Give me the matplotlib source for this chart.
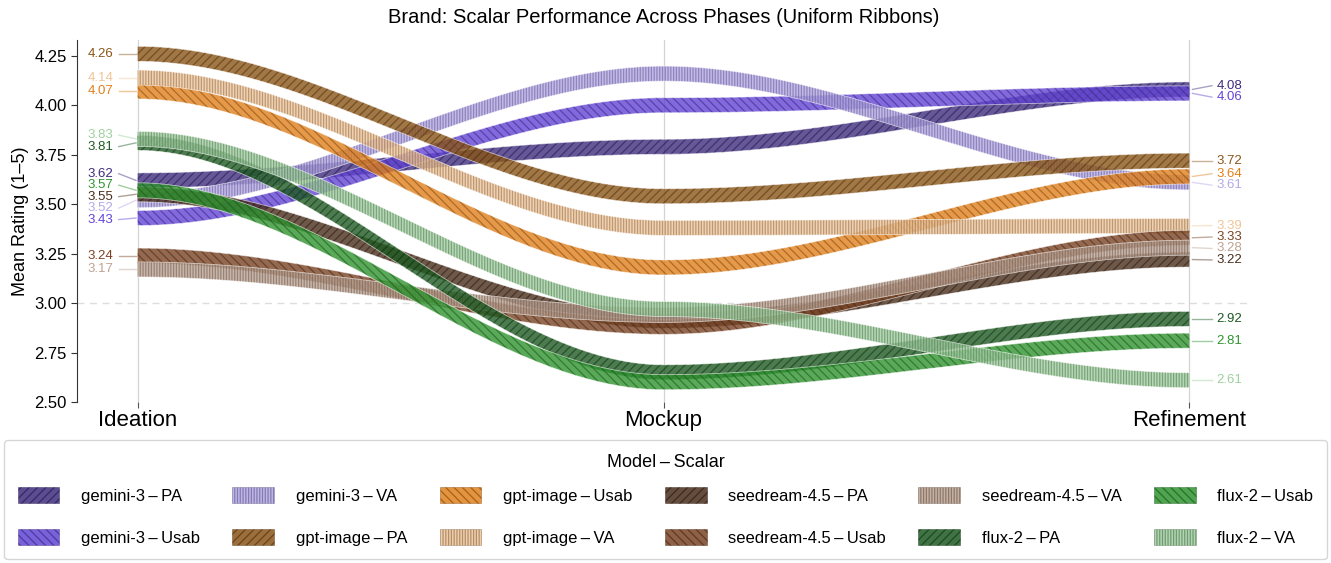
import numpy as np
import matplotlib
matplotlib.use("Agg")
import matplotlib.pyplot as plt
from matplotlib.patches import Patch
from matplotlib.colors import to_rgba

plt.rcParams['font.family'] = ['Liberation Sans', 'DejaVu Sans']
plt.rcParams['hatch.linewidth'] = 0.9

phases = ["Ideation", "Mockup", "Refinement"]
models = ["gemini-3", "gpt-image", "seedream-4.5", "flux-2"]
scalars = ["PA", "Usab", "VA"]

# mean rating per phase (Ideation, Mockup, Refinement)
gemini_pa = [3.62, 3.79, 4.08]
gemini_usab = [3.43, 4.00, 4.06]
gemini_va = [3.52, 4.16, 3.61]
gpt_pa = [4.26, 3.54, 3.72]
gpt_usab = [4.07, 3.18, 3.64]
gpt_va = [4.14, 3.38, 3.39]
seed_pa = [3.55, 2.91, 3.22]
seed_usab = [3.24, 2.88, 3.33]
seed_va = [3.17, 2.94, 3.28]
flux_pa = [3.81, 2.65, 2.92]
flux_usab = [3.57, 2.60, 2.81]
flux_va = [3.83, 2.97, 2.61]

series = [gemini_pa, gemini_usab, gemini_va,
          gpt_pa, gpt_usab, gpt_va,
          seed_pa, seed_usab, seed_va,
          flux_pa, flux_usab, flux_va]

colors = ["#3f2d7f", "#6345d6", "#b4a8ea",
          "#8a5518", "#e0801c", "#f2c597",
          "#4a2e1c", "#7a4424", "#bea392",
          "#1e5a22", "#2f9430", "#9fd09f"]
hatches = {"PA": "////", "Usab": "\\\\\\\\", "VA": "||||||"}

half_w = 0.038


def darker(c, f=0.6):
    r, g, b, _ = to_rgba(c)
    return (r * f, g * f, b * f)


def spread(vals, gap):
    # push labels apart so they don't overlap
    order = np.argsort(vals)
    pos = np.array(vals, float)[order]
    for _ in range(300):
        moved = False
        for i in range(1, len(pos)):
            d = pos[i] - pos[i - 1]
            if d < gap - 1e-6:
                s = (gap - d) / 2
                pos[i] += s
                pos[i - 1] -= s
                moved = True
        if not moved:
            break
    out = np.empty_like(pos)
    out[order] = pos
    return out


fig = plt.figure(figsize=(13.31, 5.63), dpi=100)
ax = fig.add_axes([0.058, 0.286, 0.881, 0.643])

for xp in range(len(phases)):
    ax.axvline(xp, color="#d4d4d4", lw=0.9, zorder=0)
ax.axhline(3.0, color="#dddddd", lw=1, ls=(0, (5, 4)), zorder=0)

xs = np.linspace(0, 2, 400)
handles = []
for k, vals in enumerate(series):
    model = models[k // 3]
    sc = scalars[k % 3]
    c = colors[k]
    seg = np.minimum(xs.astype(int), 1)
    t = xs - seg
    s = 3 * t ** 2 - 2 * t ** 3
    v = np.array(vals)
    y = v[seg] + (v[seg + 1] - v[seg]) * s
    ax.fill_between(xs, y - half_w, y + half_w, facecolor=to_rgba(c, 0.8),
                    edgecolor=to_rgba(darker(c), 0.6), hatch=hatches[sc],
                    lw=0, zorder=2)
    ax.plot(xs, y + half_w, color="white", lw=0.6, alpha=0.6, zorder=2)
    ax.plot(xs, y - half_w, color="white", lw=0.6, alpha=0.6, zorder=2)
    handles.append(Patch(facecolor=to_rgba(c, 0.85), edgecolor=to_rgba(darker(c), 0.7),
                         hatch=hatches[sc], lw=0.4,
                         label=f"{model}\u2009\u2013\u2009{sc}"))

# value labels at both ends
for end, xa, xb, xt, ha in [(0, -0.036, -0.003, -0.046, "right"),
                            (2, 2.006, 2.043, 2.052, "left")]:
    vals = [s_[end] for s_ in series]
    lab = spread(vals, 0.058)
    for k, v in enumerate(vals):
        c = colors[k]
        if end == 0:
            ax.plot([xa, xb], [lab[k], v], color=c, lw=1, alpha=0.45, clip_on=False)
        else:
            ax.plot([xa, xb], [v, lab[k]], color=c, lw=1, alpha=0.45, clip_on=False)
        ax.text(xt, lab[k], f"{v:.2f}", color=c, fontsize=9.5, ha=ha,
                va="center", clip_on=False)

ax.set_xlim(-0.115, 2.115)
ax.set_ylim(2.5, 4.33)
ax.set_yticks([2.5, 2.75, 3.0, 3.25, 3.5, 3.75, 4.0, 4.25])
ax.set_yticklabels([f"{t:.2f}" for t in ax.get_yticks()])
ax.set_xticks(range(len(phases)))
ax.set_xticklabels(phases)
ax.tick_params(axis="x", labelsize=16, length=4, color="#555555", pad=2)
ax.tick_params(axis="y", labelsize=12, length=4, color="#333333")
for sp in ["top", "right", "bottom"]:
    ax.spines[sp].set_visible(False)
ax.spines["left"].set_color("#333333")
ax.set_ylabel("Mean Rating (1\u20135)", fontsize=13)
ax.set_title("Brand: Scalar Performance Across Phases (Uniform Ribbons)",
             fontsize=14.5, pad=12)

leg = fig.legend(handles=handles, ncol=6, loc="lower left",
                 bbox_to_anchor=(0.002, 0.004, 0.996, 0.2), mode="expand",
                 borderaxespad=0.1,
                 title="Model\u2009\u2013\u2009Scalar", title_fontsize=13, fontsize=12,
                 handlelength=2.5, handleheight=1.1, labelspacing=1.5,
                 handletextpad=1.3, borderpad=0.8, frameon=True, fancybox=True,
                 edgecolor="#cccccc")
# tighter gap between the legend title and the first row
leg._legend_box.sep = 12

fig.savefig("out.png", dpi=100)
